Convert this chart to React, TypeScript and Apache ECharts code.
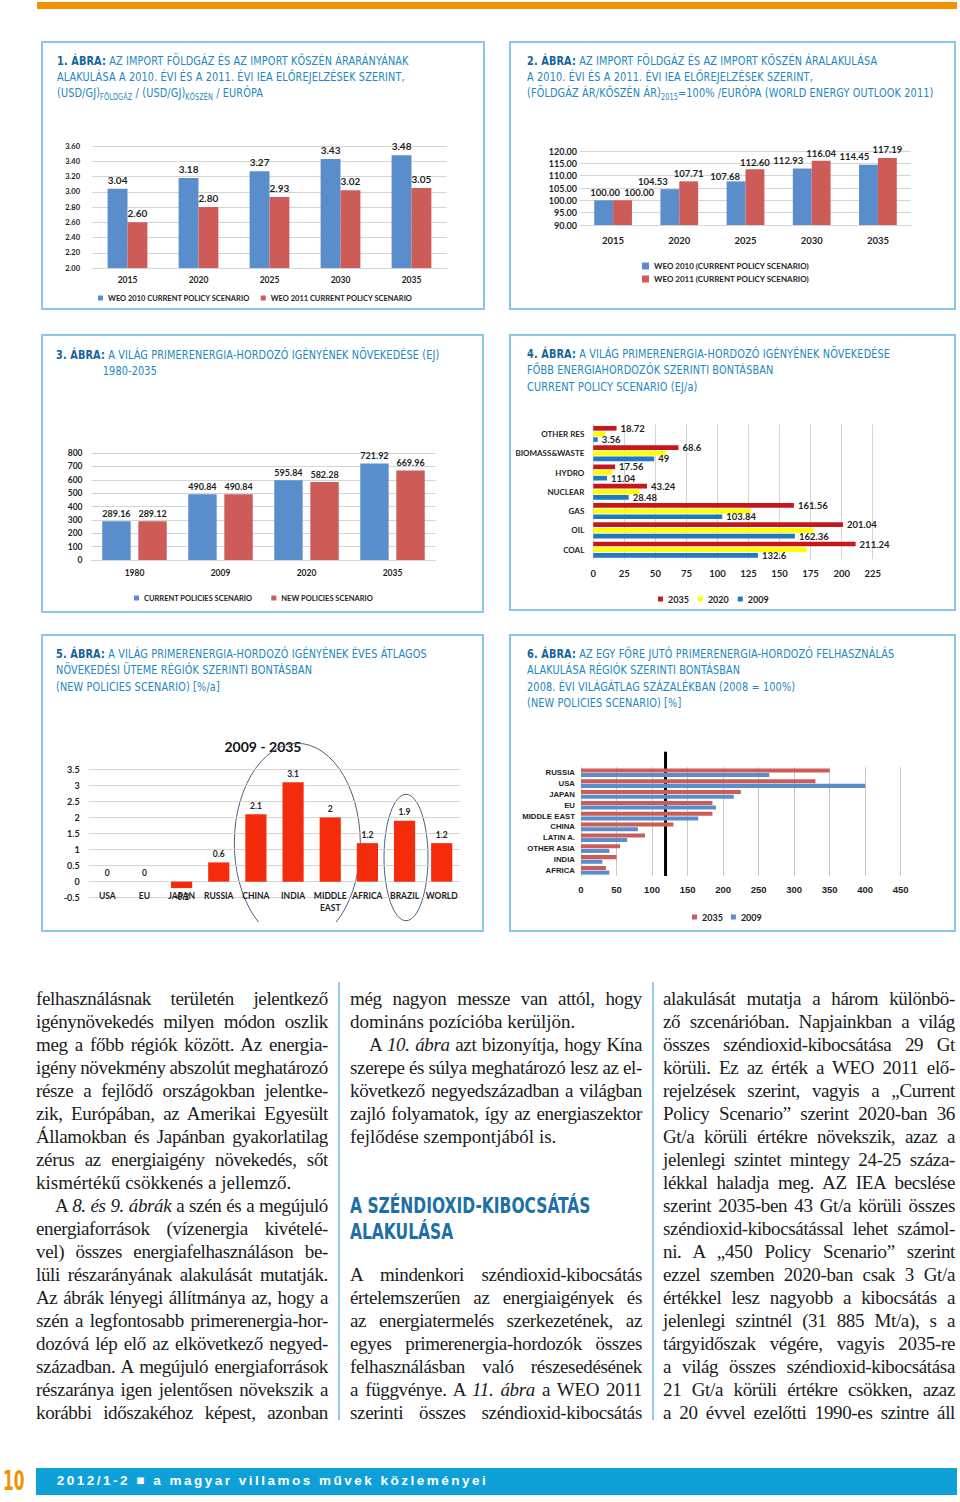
import React, { useEffect, useRef } from "react";
import * as echarts from "echarts";

// ---------- DATA ----------
const c1Years = ["2015", "2020", "2025", "2030", "2035"];
const c1Weo2010 = [3.04, 3.18, 3.27, 3.43, 3.48];
const c1Weo2011 = [2.6, 2.8, 2.93, 3.02, 3.05];

const c2Years = ["2015", "2020", "2025", "2030", "2035"];
const c2Weo2010 = [100.0, 104.53, 107.68, 112.93, 114.45];
const c2Weo2011 = [100.0, 107.71, 112.6, 116.04, 117.19];

const c3Years = ["1980", "2009", "2020", "2035"];
const c3Current = [289.16, 490.84, 595.84, 721.92];
const c3New = [289.12, 490.84, 582.28, 669.96];

const c4Carriers = ["OTHER RES", "BIOMASS&WASTE", "HYDRO", "NUCLEAR", "GAS", "OIL", "COAL"];
const c4Y2035 = [18.72, 68.6, 17.56, 43.24, 161.56, 201.04, 211.24];
const c4Y2020 = [9.5, 58.5, 15.3, 37, 126.7, 177.2, 171.8];
const c4Y2009 = [3.56, 49, 11.04, 28.48, 103.84, 162.36, 132.6];

const c5Regions = ["USA", "EU", "JAPAN", "RUSSIA", "CHINA", "INDIA", "MIDDLE\nEAST", "AFRICA", "BRAZIL", "WORLD"];
const c5Growth = [0, 0, -0.2, 0.6, 2.1, 3.1, 2, 1.2, 1.9, 1.2];

const c6Regions = ["RUSSIA", "USA", "JAPAN", "EU", "MIDDLE EAST", "CHINA", "LATIN A.", "OTHER ASIA", "INDIA", "AFRICA"];
const c6Y2035 = [350, 330, 225, 185, 185, 130, 90, 55, 50, 35];
const c6Y2009 = [265, 400, 215, 190, 165, 80, 65, 40, 30, 40];
const c6Reference = 119;

// ---------- STYLE ----------
const FONT_CAL = 'Lato, "Open Sans", "Noto Sans", sans-serif';
const FONT_ARIAL = '"Liberation Sans", Arial, sans-serif';
const FONT_TITLE = '"Liberation Sans Narrow", "DejaVu Sans Condensed", "Roboto Condensed", sans-serif';
const FONT_SERIF = '"Liberation Serif", "Times New Roman", serif';
const TXT = "#1e1e1e";
const GRID_LINE = "#d4d4d4";
const BLUE = "#5a8dcc";
const RED = "#cd5c58";
const C4_RED = "#c8161d";
const C4_YEL = "#ffff00";
const C4_BLUE = "#1f7ac4";
const C5_RED = "#f52c0c";
const PANEL_BORDER = "#86c8e6";
const TITLE_BLUE = "#2286bf";
const TITLE_DARK = "#17649b";

// label position tweaks (chart 2 labels are hand placed in the source)
const c2ShiftBlue = [[1.5, 0], [-17, 0], [-11, 3], [-14, 0], [-14, 0]];
const c2ShiftRed = [[16.5, 0], [0, 0], [0, 1.5], [0, 1], [0, 0]];

// annotation shape for chart 5 (ellipse clipped at the bottom of the chart)
echarts.graphic.registerShape(
  "bigEllipseArc",
  echarts.graphic.extendPath("M 217.4 288 A 63 100 0 1 1 295.2 288", {})
);

const lab = (size: number, extra: any = {}) => ({
  fontFamily: FONT_CAL,
  fontWeight: "bold",
  fontSize: size,
  color: TXT,
  ...extra,
});

// ---------- OPTIONS ----------
const opt1: any = {
  animation: false,
  grid: { left: 51, top: 105, width: 355, height: 122 },
  legend: {
    left: 52, top: 248, itemWidth: 5, itemHeight: 5, itemGap: 11, icon: "rect",
    textStyle: lab(7.5),
  },
  xAxis: {
    type: "category", data: c1Years,
    axisTick: { show: false }, axisLine: { lineStyle: { color: GRID_LINE } },
    axisLabel: lab(8.5, { margin: 7 }),
  },
  yAxis: {
    type: "value", min: 2, max: 3.6, interval: 0.2,
    axisLabel: lab(7.5, { margin: 12, formatter: (v: number) => v.toFixed(2) }),
    splitLine: { lineStyle: { color: GRID_LINE } },
  },
  series: [
    {
      name: "WEO 2010 CURRENT POLICY SCENARIO", type: "bar", data: c1Weo2010,
      barGap: "0%", barCategoryGap: "44%", itemStyle: { color: BLUE },
      label: { show: true, position: "top", distance: 4, formatter: (p: any) => p.value.toFixed(2), ...lab(10) },
    },
    {
      name: "WEO 2011 CURRENT POLICY SCENARIO", type: "bar", data: c1Weo2011,
      itemStyle: { color: RED },
      label: { show: true, position: "top", distance: 4, formatter: (p: any) => p.value.toFixed(2), ...lab(10) },
    },
  ],
};

const opt2: any = {
  animation: false,
  grid: { left: 71, top: 110, width: 331, height: 74 },
  legend: {
    orient: "vertical", left: 128, top: 216, itemWidth: 7, itemHeight: 7, itemGap: 5, icon: "rect",
    textStyle: lab(8),
  },
  xAxis: {
    type: "category", data: c2Years,
    axisTick: { show: false }, axisLine: { lineStyle: { color: GRID_LINE } },
    axisLabel: lab(9.5, { margin: 10 }),
  },
  yAxis: {
    type: "value", min: 90, max: 120, interval: 5,
    axisLabel: lab(9, { margin: 3, formatter: (v: number) => v.toFixed(2) }),
    splitLine: { lineStyle: { color: GRID_LINE } },
  },
  series: [
    {
      name: "WEO 2010 (CURRENT POLICY SCENARIO)", type: "bar",
      data: c2Weo2010.map((v, i) => ({ value: v, label: { offset: c2ShiftBlue[i] } })),
      barGap: "0%", barCategoryGap: "43%", itemStyle: { color: BLUE },
      label: { show: true, position: "top", distance: 3, formatter: (p: any) => p.value.toFixed(2), ...lab(9.5) },
    },
    {
      name: "WEO 2011 (CURRENT POLICY SCENARIO)", type: "bar",
      data: c2Weo2011.map((v, i) => ({ value: v, label: { offset: c2ShiftRed[i] } })),
      itemStyle: { color: RED },
      label: { show: true, position: "top", distance: 3, formatter: (p: any) => p.value.toFixed(2), ...lab(9.5) },
    },
  ],
};

const opt3: any = {
  animation: false,
  grid: { left: 50.5, top: 119, width: 344, height: 107 },
  legend: {
    left: 88, top: 255, itemWidth: 5, itemHeight: 5, itemGap: 19, icon: "rect",
    textStyle: lab(7.5),
  },
  xAxis: {
    type: "category", data: c3Years,
    axisTick: { show: false }, axisLine: { lineStyle: { color: GRID_LINE } },
    axisLabel: lab(8.5, { margin: 8 }),
  },
  yAxis: {
    type: "value", min: 0, max: 800, interval: 100,
    axisLabel: lab(8.5, { margin: 9 }),
    splitLine: { lineStyle: { color: GRID_LINE } },
  },
  series: [
    {
      name: "CURRENT POLICIES SCENARIO", type: "bar", data: c3Current,
      barGap: "27%", barCategoryGap: "25%", itemStyle: { color: BLUE },
      label: { show: true, position: "top", distance: 3, ...lab(9) },
    },
    {
      name: "NEW POLICIES SCENARIO", type: "bar", data: c3New,
      itemStyle: { color: RED },
      label: { show: true, position: "top", distance: 3, ...lab(9) },
    },
  ],
};

const opt4: any = {
  animation: false,
  grid: { left: 84.3, top: 90.3, width: 279.4, height: 135 },
  legend: {
    left: 144, top: 255.5, itemWidth: 5, itemHeight: 5, itemGap: 9, icon: "rect",
    textStyle: lab(9),
  },
  xAxis: {
    type: "value", min: 0, max: 225, interval: 25,
    axisLabel: lab(9.5, { margin: 9 }),
    splitLine: { lineStyle: { color: GRID_LINE } },
  },
  yAxis: {
    type: "category", data: c4Carriers, inverse: true,
    axisTick: { show: false }, axisLine: { lineStyle: { color: GRID_LINE } },
    axisLabel: lab(8, { margin: 9 }),
  },
  series: [
    {
      name: "2035", type: "bar", data: c4Y2035, barGap: "20%", barCategoryGap: "17%",
      itemStyle: { color: C4_RED },
      label: { show: true, position: "right", distance: 4, ...lab(9.5) },
    },
    { name: "2020", type: "bar", data: c4Y2020, itemStyle: { color: C4_YEL } },
    {
      name: "2009", type: "bar", data: c4Y2009, itemStyle: { color: C4_BLUE },
      label: { show: true, position: "right", distance: 4, ...lab(9.5) },
    },
  ],
};

const opt5: any = {
  animation: false,
  grid: { left: 47.7, top: 135.3, width: 371.6, height: 128.4 },
  xAxis: {
    type: "category", data: c5Regions,
    axisTick: { show: false }, axisLine: { show: false, onZero: false },
    axisLabel: lab(8.5, { margin: -8, lineHeight: 12, interval: 0 }),
  },
  yAxis: {
    type: "value", min: -0.5, max: 3.5, interval: 0.5,
    axisLabel: lab(9, { margin: 9 }),
    splitLine: { lineStyle: { color: GRID_LINE } },
  },
  series: [
    {
      type: "bar",
      data: c5Growth.map((v) => ({ value: v, label: { position: v < 0 ? "bottom" : "top" } })),
      barCategoryGap: "43%", itemStyle: { color: C5_RED },
      label: { show: true, distance: 4, ...lab(8.5) },
    },
  ],
  graphic: [
    {
      type: "text", x: 222, y: 112.7,
      style: { text: "2009 - 2035", textAlign: "center", textVerticalAlign: "middle", font: 'bold 14px Lato, "Open Sans", sans-serif', fill: "#111" },
    },
    { type: "bigEllipseArc", style: { fill: "none", stroke: "#4d6079", lineWidth: 1 } },
    { type: "ellipse", shape: { cx: 365, cy: 223.5, rx: 22, ry: 63.2 }, style: { fill: "none", stroke: "#4d6079", lineWidth: 1 } },
  ],
};

const lab6 = (size: number, extra: any = {}) => ({
  fontFamily: FONT_ARIAL, fontWeight: "bold", fontSize: size, color: TXT, ...extra,
});

const opt6: any = {
  animation: false,
  grid: { left: 72, top: 133.3, width: 319.7, height: 108.4 },
  legend: {
    left: 178, top: 273.5, itemWidth: 5, itemHeight: 5, itemGap: 8, icon: "rect",
    textStyle: lab(9),
  },
  xAxis: {
    type: "value", min: 0, max: 450, interval: 50,
    axisLabel: lab6(9.5, { margin: 9 }),
    splitLine: { lineStyle: { color: "#c6c6c6" } },
  },
  yAxis: {
    type: "category", data: c6Regions, inverse: true,
    axisTick: { show: false }, axisLine: { lineStyle: { color: GRID_LINE } },
    axisLabel: lab6(7.8, { margin: 6 }),
  },
  series: [
    { name: "2035", type: "bar", data: c6Y2035, barGap: "15%", barCategoryGap: "20%", itemStyle: { color: RED } },
    { name: "2009", type: "bar", data: c6Y2009, itemStyle: { color: BLUE } },
  ],
};

// ---------- COMPONENTS ----------
function Chart({ box, option, after }: { box: number[]; option: any; after?: (c: any) => void }) {
  const ref = useRef<HTMLDivElement>(null);
  useEffect(() => {
    const chart = echarts.init(ref.current as HTMLDivElement, null, { renderer: "svg" });
    chart.setOption(option);
    if (after) after(chart);
    return () => chart.dispose();
  }, []);
  return (
    <div
      ref={ref}
      style={{ position: "absolute", left: box[0], top: box[1], width: box[2], height: box[3] }}
    />
  );
}

const PANELS = [
  [41, 41, 444, 269],
  [509, 41, 447, 269],
  [41, 334, 443, 279],
  [509, 334, 447, 277],
  [41, 634, 443, 298],
  [509, 634, 447, 298],
];

const Sub = ({ children }: any) => (
  <span style={{ fontSize: 8, position: "relative", top: 3 }}>{children}</span>
);

function Title({ left, top, lines }: { left: number; top: number; lines: any[] }) {
  return (
    <div
      style={{
        position: "absolute", left, top, fontFamily: FONT_TITLE, fontSize: 12,
        lineHeight: "16.3px", color: TITLE_BLUE, whiteSpace: "nowrap", letterSpacing: "0.15px",
        transform: "scaleX(0.9)", transformOrigin: "0 0",
      }}
    >
      {lines.map((l, i) => (
        <div key={i}>{l}</div>
      ))}
    </div>
  );
}

const B = ({ children }: any) => <b style={{ color: TITLE_DARK }}>{children}</b>;

function Line({ children, just = true, indent = false }: any) {
  return (
    <div
      style={{
        height: 23,
        textAlign: just ? "justify" : "left",
        textAlignLast: just ? "justify" : "left",
        textIndent: indent ? 19 : 0,
        letterSpacing: just ? "-0.35px" : "0px",
        wordSpacing: just ? "-3px" : "0px",
        whiteSpace: "normal",
        overflow: "visible",
      } as any}
    >
      {children}
    </div>
  );
}

const colStyle = (left: number): any => ({
  position: "absolute", left, top: 986.5, width: 292, fontFamily: FONT_SERIF,
  fontSize: 19, lineHeight: "23px", color: "#1b1b1b",
});

export default function App() {
  const drawRef = (chart: any) => {
    const x = chart.convertToPixel({ xAxisIndex: 0 }, c6Reference);
    chart.setOption({
      graphic: [
        { type: "line", shape: { x1: x, y1: 117.7, x2: x, y2: 242 }, style: { stroke: "#000", lineWidth: 3 } },
      ],
    });
  };

  return (
    <div style={{ position: "absolute", left: 0, top: 0, width: 960, height: 1502, background: "#fff", overflow: "hidden" }}>
      <div style={{ position: "absolute", left: 37, top: 2, width: 920, height: 7, background: "#f39200" }} />

      {PANELS.map((p, i) => (
        <div key={i} style={{ position: "absolute", left: p[0], top: p[1], width: p[2], height: p[3], boxSizing: "border-box", border: `2px solid ${PANEL_BORDER}` }} />
      ))}

      <Chart box={PANELS[0]} option={opt1} />
      <Chart box={PANELS[1]} option={opt2} />
      <Chart box={PANELS[2]} option={opt3} />
      <Chart box={PANELS[3]} option={opt4} />
      <Chart box={PANELS[4]} option={opt5} />
      <Chart box={PANELS[5]} option={opt6} after={drawRef} />

      <Title left={56.7} top={52.5} lines={[
        <><B>1. ÁBRA:</B> AZ IMPORT FÖLDGÁZ ÉS AZ IMPORT KŐSZÉN ÁRARÁNYÁNAK</>,
        <>ALAKULÁSA A 2010. ÉVI ÉS A 2011. ÉVI IEA ELŐREJELZÉSEK SZERINT,</>,
        <>(USD/GJ)<Sub>FÖLDGÁZ</Sub> / (USD/GJ)<Sub>KŐSZÉN</Sub> / EURÓPA</>,
      ]} />
      <Title left={526.7} top={52.5} lines={[
        <><B>2. ÁBRA:</B> AZ IMPORT FÖLDGÁZ ÉS AZ IMPORT KŐSZÉN ÁRALAKULÁSA</>,
        <>A 2010. ÉVI ÉS A 2011. ÉVI IEA ELŐREJELZÉSEK SZERINT,</>,
        <>(FÖLDGÁZ ÁR/KŐSZÉN ÁR)<Sub>2015</Sub>=100% /EURÓPA (WORLD ENERGY OUTLOOK 2011)</>,
      ]} />
      <Title left={56} top={347} lines={[
        <><B>3. ÁBRA:</B> A VILÁG PRIMERENERGIA-HORDOZÓ IGÉNYÉNEK NÖVEKEDÉSE (EJ)</>,
        <span style={{ paddingLeft: 52 }}>1980-2035</span>,
      ]} />
      <Title left={526.7} top={346} lines={[
        <><B>4. ÁBRA:</B> A VILÁG PRIMERENERGIA-HORDOZÓ IGÉNYÉNEK NÖVEKEDÉSE</>,
        <>FŐBB ENERGIAHORDOZÓK SZERINTI BONTÁSBAN</>,
        <>CURRENT POLICY SCENARIO (EJ/a)</>,
      ]} />
      <Title left={56} top={646} lines={[
        <><B>5. ÁBRA:</B> A VILÁG PRIMERENERGIA-HORDOZÓ IGÉNYÉNEK ÉVES ÁTLAGOS</>,
        <>NÖVEKEDÉSI ÜTEME RÉGIÓK SZERINTI BONTÁSBAN</>,
        <>(NEW POLICIES SCENARIO) [%/a]</>,
      ]} />
      <Title left={526.7} top={646} lines={[
        <><B>6. ÁBRA:</B> AZ EGY FŐRE JUTÓ PRIMERENERGIA-HORDOZÓ FELHASZNÁLÁS</>,
        <>ALAKULÁSA RÉGIÓK SZERINTI BONTÁSBAN</>,
        <>2008. ÉVI VILÁGÁTLAG SZÁZALÉKBAN (2008 = 100%)</>,
        <>(NEW POLICIES SCENARIO) [%]</>,
      ]} />

      {/* column rules */}
      <div style={{ position: "absolute", left: 338, top: 982, width: 1.5, height: 438, background: "#8fcde8" }} />
      <div style={{ position: "absolute", left: 652, top: 982, width: 1.5, height: 438, background: "#8fcde8" }} />

      <div style={colStyle(36)}>
        <Line>felhasználásnak területén jelentkező</Line>
        <Line>igénynövekedés milyen módon oszlik</Line>
        <Line>meg a főbb régiók között. Az energia-</Line>
        <Line>igény növekmény abszolút meghatározó</Line>
        <Line>része a fejlődő országokban jelentke-</Line>
        <Line>zik, Európában, az Amerikai Egyesült</Line>
        <Line>Államokban és Japánban gyakorlatilag</Line>
        <Line>zérus az energiaigény növekedés, sőt</Line>
        <Line just={false}>kismértékű csökkenés a jellemző.</Line>
        <Line indent>A <i>8. és 9. ábrák</i> a szén és a megújuló</Line>
        <Line>energiaforrások (vízenergia kivételé-</Line>
        <Line>vel) összes energiafelhasználáson be-</Line>
        <Line>lüli részarányának alakulását mutatják.</Line>
        <Line>Az ábrák lényegi állítmánya az, hogy a</Line>
        <Line>szén a legfontosabb primerenergia-hor-</Line>
        <Line>dozóvá lép elő az elkövetkező negyed-</Line>
        <Line>században. A megújuló energiaforrások</Line>
        <Line>részaránya igen jelentősen növekszik a</Line>
        <Line>korábbi időszakéhoz képest, azonban</Line>
      </div>

      <div style={colStyle(350)}>
        <Line>még nagyon messze van attól, hogy</Line>
        <Line just={false}>domináns pozícióba kerüljön.</Line>
        <Line indent>A <i>10. ábra</i> azt bizonyítja, hogy Kína</Line>
        <Line>szerepe és súlya meghatározó lesz az el-</Line>
        <Line>következő negyedszázadban a világban</Line>
        <Line>zajló folyamatok, így az energiaszektor</Line>
        <Line just={false}>fejlődése szempontjából is.</Line>
        <Line just={false}> </Line>
        <Line just={false}> </Line>
        <div style={{ height: 46, fontFamily: FONT_TITLE, fontWeight: "bold", fontSize: 21, lineHeight: "26px", color: "#1d6fa6", position: "relative", top: -1, transform: "scaleX(0.82)", transformOrigin: "0 0", whiteSpace: "nowrap" }}>
          <div>A SZÉNDIOXID-KIBOCSÁTÁS</div>
          <div>ALAKULÁSA</div>
        </div>
        <Line just={false}> </Line>
        <Line>A mindenkori széndioxid-kibocsátás</Line>
        <Line>értelemszerűen az energiaigények és</Line>
        <Line>az energiatermelés szerkezetének, az</Line>
        <Line>egyes primerenergia-hordozók összes</Line>
        <Line>felhasználásban való részesedésének</Line>
        <Line>a függvénye. A <i>11. ábra</i> a WEO 2011</Line>
        <Line>szerinti összes széndioxid-kibocsátás</Line>
      </div>

      <div style={colStyle(663)}>
        <Line>alakulását mutatja a három különbö-</Line>
        <Line>ző szcenárióban. Napjainkban a világ</Line>
        <Line>összes széndioxid-kibocsátása 29 Gt</Line>
        <Line>körüli. Ez az érték a WEO 2011 elő-</Line>
        <Line>rejelzések szerint, vagyis a „Current</Line>
        <Line>Policy Scenario” szerint 2020-ban 36</Line>
        <Line>Gt/a körüli értékre növekszik, azaz a</Line>
        <Line>jelenlegi szintet mintegy 24-25 száza-</Line>
        <Line>lékkal haladja meg. AZ IEA becslése</Line>
        <Line>szerint 2035-ben 43 Gt/a körüli összes</Line>
        <Line>széndioxid-kibocsátással lehet számol-</Line>
        <Line>ni. A „450 Policy Scenario” szerint</Line>
        <Line>ezzel szemben 2020-ban csak 3 Gt/a</Line>
        <Line>értékkel lesz nagyobb a kibocsátás a</Line>
        <Line>jelenlegi szintnél (31 885 Mt/a), s a</Line>
        <Line>tárgyidőszak végére, vagyis 2035-re</Line>
        <Line>a világ összes széndioxid-kibocsátása</Line>
        <Line>21 Gt/a körüli értékre csökken, azaz</Line>
        <Line>a 20 évvel ezelőtti 1990-es szintre áll</Line>
      </div>

      {/* footer */}
      <div style={{ position: "absolute", left: 3, top: 1467, fontFamily: FONT_TITLE, fontWeight: "bold", fontSize: 26, lineHeight: "28px", color: "#f39200", transform: "scaleX(0.66)", transformOrigin: "0 0" }}>10</div>
      <div style={{ position: "absolute", left: 36, top: 1468, width: 921, height: 26.5, background: "#0fa0d8" }} />
      <div style={{ position: "absolute", left: 56.7, top: 1468, height: 26.5, lineHeight: "26.5px", fontFamily: FONT_ARIAL, fontWeight: "bold", fontSize: 13.5, letterSpacing: "2.5px", color: "#fff", whiteSpace: "nowrap" }}>
        2012/1-2 ■ a magyar villamos művek közleményei
      </div>
    </div>
  );
}
